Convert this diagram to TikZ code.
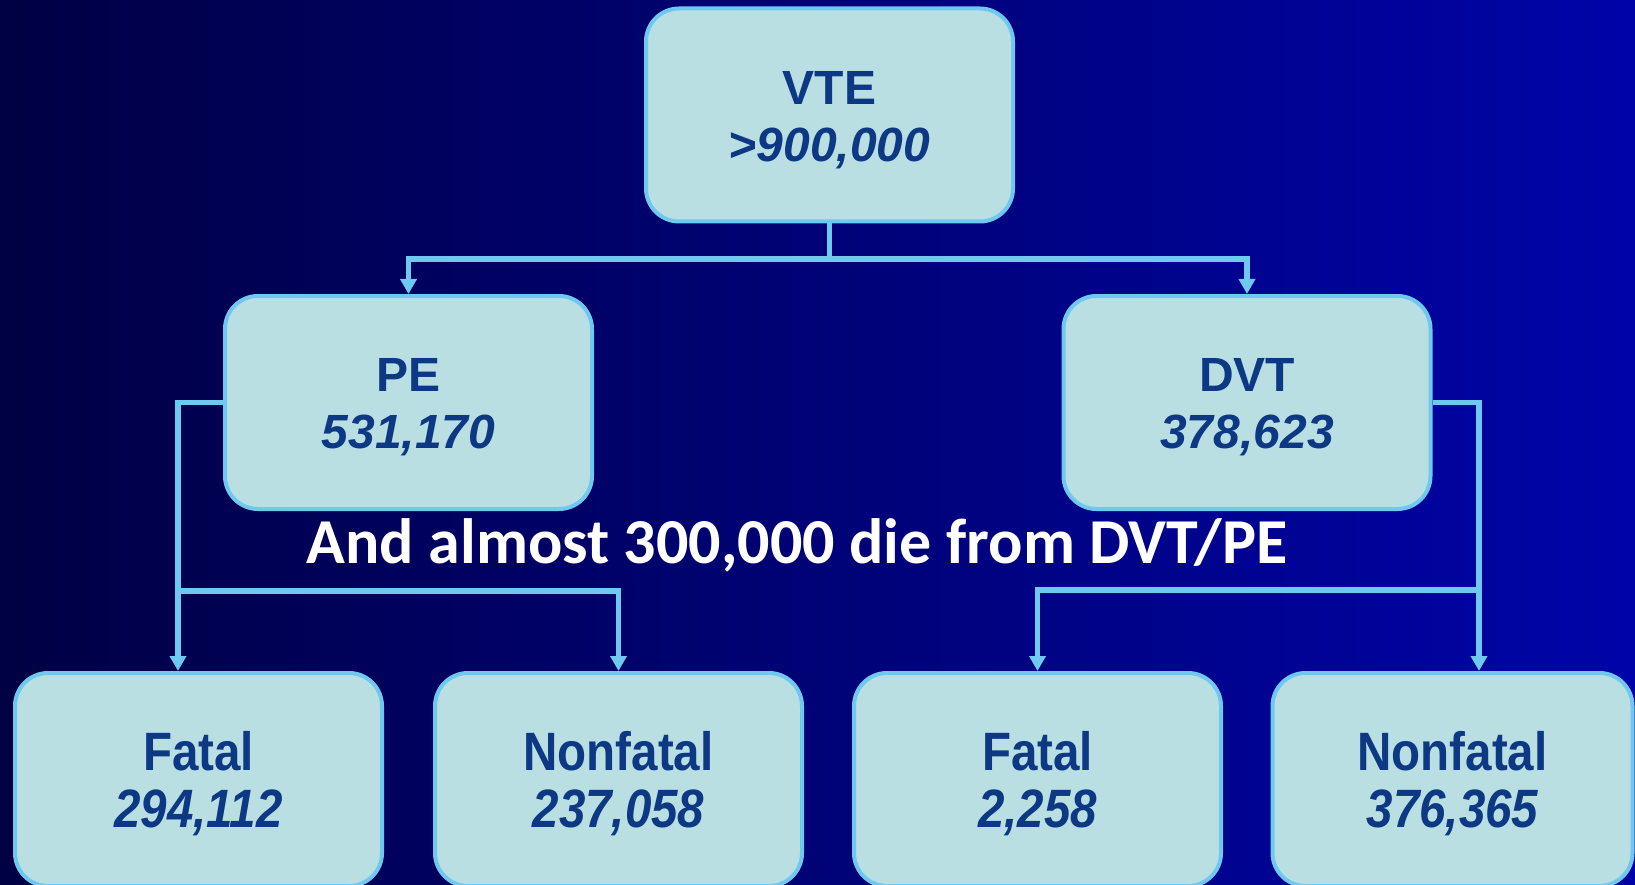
\documentclass[tikz,border=0pt]{standalone}
\usepackage{fontspec}
\setmainfont{Liberation Sans}
\newfontfamily\narrowfont[FakeStretch=0.88]{Liberation Sans}
\newfontfamily\notefont{Carlito}
\usetikzlibrary{arrows.meta,calc}
\definecolor{bgleft}{RGB}{0,0,68}
\definecolor{bgright}{RGB}{0,4,168}
\definecolor{boxfill}{RGB}{185,223,227}
\definecolor{boxline}{RGB}{110,200,240}
\definecolor{boxtext}{RGB}{12,56,132}
\newcommand{\topstrut}{\rule{0pt}{43pt}}
\newcommand{\botstrut}{\rule{0pt}{48pt}}
\tikzset{
  box/.style={draw=boxline, line width=4pt, fill=boxfill, rounded corners=33pt,
    minimum width=367pt, minimum height=213pt, align=center, text=boxtext,
    inner sep=0pt},
  toptext/.style={font=\fontsize{48}{57}\selectfont\bfseries},
  bottext/.style={font=\narrowfont\fontsize{54}{57}\selectfont\bfseries},
  conn/.style={draw=boxline, line width=5.5pt},
  arr/.style={-{Triangle[width=16pt,length=15pt]}}
}
\begin{document}
\begin{tikzpicture}[x=1pt,y=-1pt]
\shade[left color=bgleft, right color=bgright] (0,0) rectangle (1635,885);
\useasboundingbox (0,0) rectangle (1635,885);
% boxes
\node[box,toptext] (vte) at (829.5,115) {\topstrut VTE\\\itshape >900,000};
\node[box,toptext] (pe) at (408.5,402.5) {\topstrut PE\\\itshape 531,170};
\node[box,toptext] (dvt) at (1247,402.5) {\topstrut DVT\\\itshape 378,623};
\node[box,bottext] (fatalA) at (198.5,779.5) {\botstrut Fatal\\\itshape 294,112};
\node[box,bottext] (nonfatalA) at (618.5,779.5) {\botstrut Nonfatal\\\itshape 237,058};
\node[box,bottext] (fatalB) at (1037.5,779.5) {\botstrut Fatal\\\itshape 2,258};
\node[box,bottext,minimum width=360pt] (nonfatalB) at (1452.5,779.5) {\botstrut Nonfatal\\\itshape 376,365};
% note
\node[anchor=base, text=white, font=\notefont\bfseries\fontsize{64}{74}\selectfont, inner sep=0pt] (note) at (797,563) {And almost 300,000 die from DVT/PE};
% connectors
\coordinate (jt) at (829.5,259);
\coordinate (pl) at (178,591);
\coordinate (dr) at (1479,590);
\draw[conn] (vte.south) -- (jt);
\draw[conn,arr] (jt) -| (pe.north);
\draw[conn,arr] (jt) -| (dvt.north);
\draw[conn,arr] (pe.west) -| (fatalA.north -| pl);
\draw[conn,arr] (pl) -| (nonfatalA.north);
\draw[conn,arr] (dvt.east) -| (nonfatalB.north -| dr);
\draw[conn,arr] (dr) -| (fatalB.north);
\end{tikzpicture}
\end{document}
